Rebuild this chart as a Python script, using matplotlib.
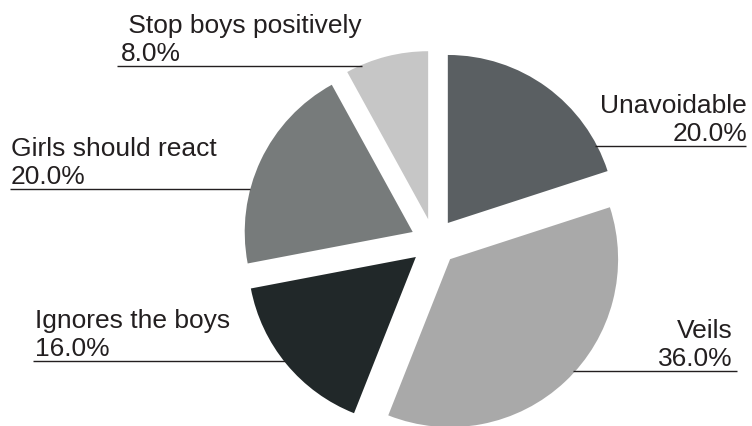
import matplotlib.pyplot as plt

plt.rcParams['font.family'] = ['Liberation Sans', 'DejaVu Sans']

# Survey answers (percent)
labels = ['Unavoidable', 'Veils', 'Ignores the boys', 'Girls should react', 'Stop boys positively']
values = [20.0, 36.0, 16.0, 20.0, 8.0]
colors = ['#5a5f62', '#a9a9a9', '#212829', '#777b7b', '#c6c6c6']

W, H = 752, 427
fig = plt.figure(figsize=(W / 100, H / 100), dpi=100)
ax = fig.add_axes([0, 0, 1, 1])

# pie in pixel coords (y measured from bottom); explode is absolute here
R = 168
ax.pie(values, colors=colors, startangle=90, counterclock=False,
       explode=[0.14 * R] * len(values), radius=R, center=(434, H - 243),
       wedgeprops=dict(linewidth=0), frame=True)
ax.set_xlim(0, W)
ax.set_ylim(0, H)
ax.set_aspect('equal')
ax.axis('off')

# label layout: (line x0, line x1, line y in image px, text x, alignment)
layout = {
    'Unavoidable': (595, 746, 147, 747, 'right'),
    'Veils': (573, 737, 372, 733, 'right'),
    'Ignores the boys': (33, 285, 362, 35, 'left'),
    'Girls should react': (10, 250, 190, 11, 'left'),
    'Stop boys positively': (117, 362, 67, 121, 'left'),
}

for lab, val in zip(labels, values):
    x0, x1, ly, tx, ha = layout[lab]
    ax.plot([x0, x1], [H - ly, H - ly], color='#231f20', lw=1.0, solid_capstyle='butt')
    txt = f'{lab}\n{val:.1f}%'
    if lab == 'Stop boys positively':
        txt = f' {lab}\n{val:.1f}%'
    ax.text(tx, H - ly + 1, txt, ha=ha, va='bottom', fontsize=19,
            color='#231f20', multialignment=ha, linespacing=1.2)

fig.savefig('out.png', dpi=100)
